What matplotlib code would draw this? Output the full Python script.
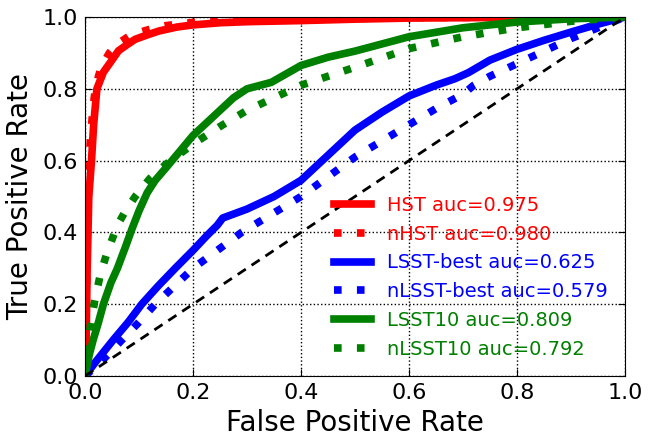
import matplotlib
matplotlib.use("Agg")
import matplotlib.pyplot as plt

# ROC curves
hst_fpr = [0, 0.002, 0.004, 0.007, 0.012, 0.016, 0.022, 0.034, 0.05, 0.062, 0.08, 0.093,
           0.115, 0.137, 0.17, 0.2, 0.25, 0.3, 0.4, 0.5, 0.6, 0.8, 1.0]
hst_tpr = [0, 0.1, 0.3, 0.5, 0.6, 0.7, 0.8, 0.846, 0.88, 0.906, 0.925, 0.938,
           0.95, 0.961, 0.972, 0.978, 0.984, 0.987, 0.99, 0.994, 0.997, 0.999, 1.0]

nhst_fpr = [0, 0.002, 0.004, 0.006, 0.01, 0.015, 0.02, 0.03, 0.045, 0.06, 0.08, 0.1,
            0.125, 0.15, 0.2, 0.3, 0.5, 1.0]
nhst_tpr = [0, 0.15, 0.35, 0.55, 0.66, 0.75, 0.81, 0.86, 0.9, 0.925, 0.945, 0.957,
            0.968, 0.976, 0.985, 0.993, 0.998, 1.0]

best_fpr = [0, 0.02, 0.052, 0.08, 0.105, 0.135, 0.167, 0.2, 0.225, 0.245, 0.255, 0.3,
            0.35, 0.4, 0.45, 0.5, 0.55, 0.6, 0.65, 0.685, 0.71, 0.75, 0.8, 0.85, 0.9, 0.95, 1.0]
best_tpr = [0, 0.04, 0.1, 0.15, 0.2, 0.25, 0.3, 0.35, 0.39, 0.42, 0.44, 0.465,
            0.5, 0.545, 0.615, 0.685, 0.735, 0.78, 0.81, 0.828, 0.845, 0.88, 0.91, 0.935, 0.958, 0.98, 1.0]

nbest_fpr = [0, 0.03, 0.068, 0.1, 0.13, 0.165, 0.2, 0.245, 0.29, 0.345, 0.4, 0.45, 0.5,
             0.55, 0.6, 0.65, 0.7, 0.72, 0.75, 0.8, 0.85, 0.9, 0.95, 1.0]
nbest_tpr = [0, 0.04, 0.1, 0.15, 0.2, 0.25, 0.3, 0.35, 0.4, 0.45, 0.5, 0.555, 0.61,
             0.655, 0.7, 0.745, 0.785, 0.81, 0.835, 0.87, 0.905, 0.94, 0.97, 1.0]

l10_fpr = [0, 0.008, 0.015, 0.025, 0.034, 0.048, 0.06, 0.075, 0.087, 0.1, 0.115, 0.13, 0.15,
           0.175, 0.2, 0.225, 0.25, 0.275, 0.3, 0.345, 0.4, 0.45, 0.5, 0.6, 0.7, 0.8, 0.9, 1.0]
l10_tpr = [0, 0.06, 0.1, 0.15, 0.2, 0.26, 0.3, 0.36, 0.41, 0.46, 0.51, 0.545, 0.58,
           0.625, 0.67, 0.705, 0.74, 0.775, 0.80, 0.818, 0.865, 0.888, 0.905, 0.945, 0.97, 0.986, 0.995, 1.0]

nl10_fpr = [0, 0.005, 0.01, 0.018, 0.028, 0.04, 0.05, 0.06, 0.075, 0.093, 0.12, 0.15, 0.2,
            0.25, 0.3, 0.35, 0.4, 0.45, 0.5, 0.6, 0.7, 0.8, 0.9, 1.0]
nl10_tpr = [0, 0.08, 0.14, 0.21, 0.28, 0.34, 0.38, 0.42, 0.46, 0.5, 0.55, 0.59, 0.646,
            0.695, 0.74, 0.775, 0.81, 0.835, 0.86, 0.912, 0.945, 0.97, 0.988, 1.0]

labels = ['HST auc=0.975', 'nHST auc=0.980', 'LSST-best auc=0.625',
          'nLSST-best auc=0.579', 'LSST10 auc=0.809', 'nLSST10 auc=0.792']

fig = plt.figure(figsize=(6.57, 4.36), dpi=100)
ax = fig.add_axes([0.1294, 0.1376, 0.8219, 0.8234])

lw = 5.5
dots = (0, (1, 2))
ax.plot(hst_fpr, hst_tpr, color='red', lw=lw, label=labels[0])
ax.plot(nhst_fpr, nhst_tpr, color='red', lw=lw, ls=dots, label=labels[1])
ax.plot(best_fpr, best_tpr, color='blue', lw=lw, label=labels[2])
ax.plot(nbest_fpr, nbest_tpr, color='blue', lw=lw, ls=dots, label=labels[3])
ax.plot(l10_fpr, l10_tpr, color='green', lw=lw, label=labels[4])
ax.plot(nl10_fpr, nl10_tpr, color='green', lw=lw, ls=dots, label=labels[5])
ax.plot([0, 1], [0, 1], color='k', lw=2, ls=(0, (3.5, 2.5)))

ax.set_xlim(0, 1)
ax.set_ylim(0, 1)
ax.set_xticks([0, 0.2, 0.4, 0.6, 0.8, 1.0])
ax.set_yticks([0, 0.2, 0.4, 0.6, 0.8, 1.0])
ax.tick_params(direction='in', top=True, right=True, labelsize=16, length=5, pad=5)
ax.grid(True, color='k', ls=':', lw=1)
ax.set_xlabel('False Positive Rate', fontsize=20)
ax.set_ylabel('True Positive Rate', fontsize=20, labelpad=6)

leg = ax.legend(loc='lower right', frameon=False, fontsize=14, labelspacing=0.5,
                handlelength=1.9)
for txt, line in zip(leg.get_texts(), leg.get_lines()):
    txt.set_color(line.get_color())

fig.savefig('out.png', dpi=100)
